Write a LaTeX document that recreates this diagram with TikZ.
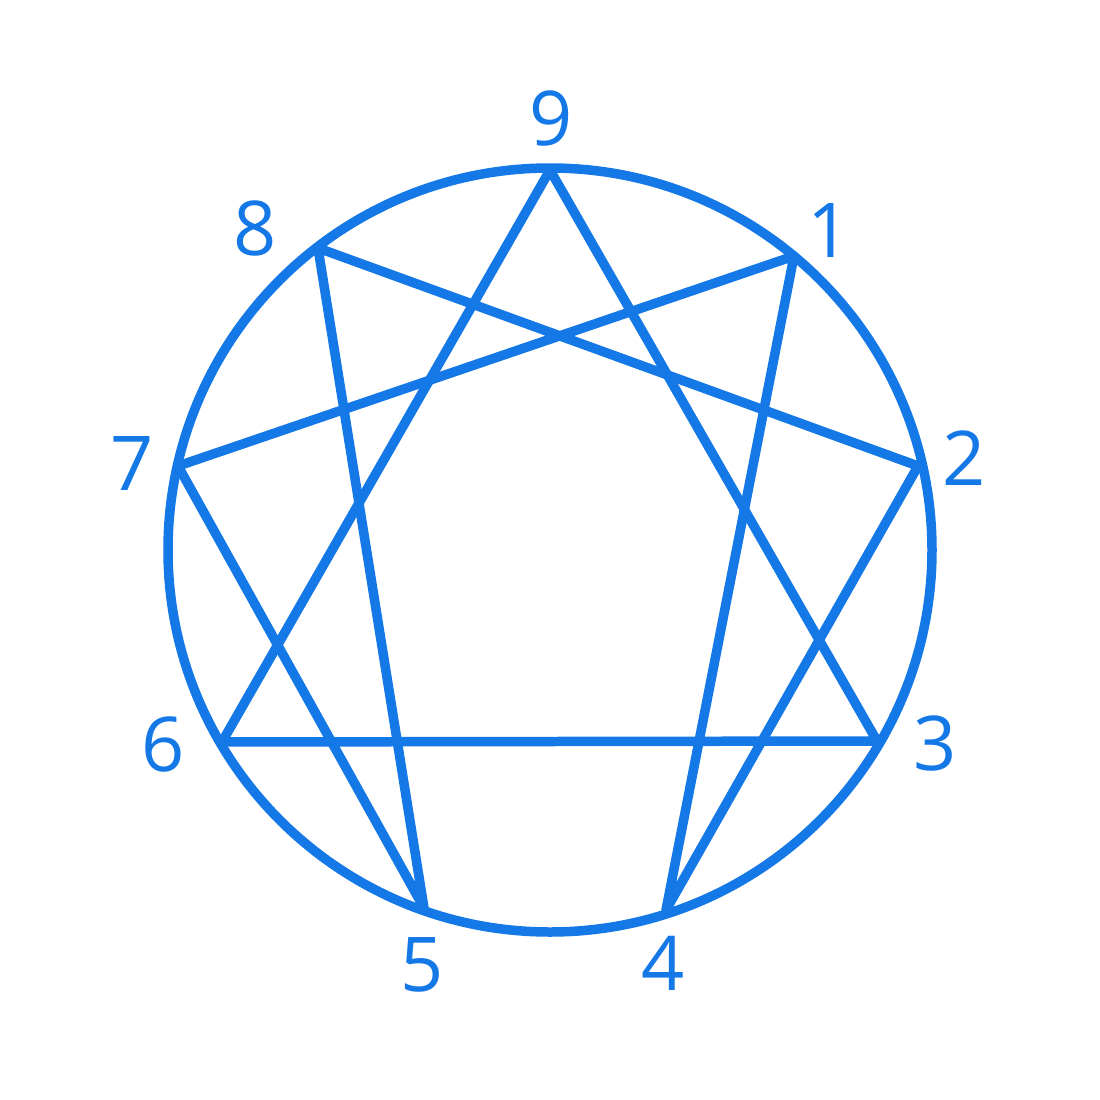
\documentclass[tikz,border=0pt]{standalone}
\usepackage{fontspec}
\setmainfont{Open Sans}
\definecolor{ennblue}{RGB}{20,120,230}
\begin{document}
\begin{tikzpicture}[x=0.01cm,y=-0.01cm,
  ring/.style={draw=ennblue,line width=2.7pt},
  edge/.style={draw=ennblue,line width=2.7pt,line join=round},
  lbl/.style={anchor=base,inner sep=0pt,text=ennblue,font=\fontsize{21.5}{24}\selectfont}]
\useasboundingbox (0,0) rectangle (1100,1100);
\coordinate (c) at (550,550);
\draw[ring] (c) circle[radius=382];
\coordinate (p9) at (550,170);
\coordinate (p1) at (794,256);
\coordinate (p2) at (918,466);
\coordinate (p3) at (877,741);
\coordinate (p4) at (666,910);
\coordinate (p5) at (424,908);
\coordinate (p6) at (222,742);
\coordinate (p7) at (178,466);
\coordinate (p8) at (318,248);
\draw[edge] (p9) -- (p3) -- (p6) -- cycle;
\draw[edge] (p1) -- (p4) -- (p2) -- (p8) -- (p5) -- (p7) -- cycle;
\node[lbl] (l9) at (551,145) {9};
\node[lbl] (l1) at (829,257) {1};
\node[lbl] (l2) at (964,485) {2};
\node[lbl] (l3) at (935,770) {3};
\node[lbl] (l4) at (663,990) {4};
\node[lbl] (l5) at (422,991) {5};
\node[lbl] (l6) at (163,771) {6};
\node[lbl] (l7) at (132,490) {7};
\node[lbl] (l8) at (255,255) {8};
\end{tikzpicture}
\end{document}
